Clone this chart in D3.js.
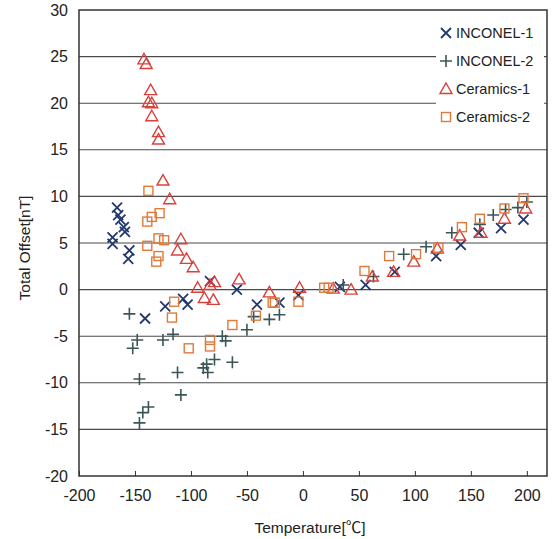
<!DOCTYPE html>
<html>
<head>
<meta charset="utf-8">
<script src="https://cdn.jsdelivr.net/npm/d3@7"></script>
<style>
  html, body { margin: 0; padding: 0; background: #fff; }
  svg { display: block; }
  text { font-family: "Liberation Sans", Arial, sans-serif; fill: #222; }
</style>
</head>
<body>
<svg id="chart" width="552" height="539"></svg>
<script>
// ---- data (Temperature [°C], Total Offset [nT]) ----
const seriesNames = ["INCONEL-1", "INCONEL-2", "Ceramics-1", "Ceramics-2"];
const xTicks = [-200, -150, -100, -50, 0, 50, 100, 150, 200];
const yTicks = [-20, -15, -10, -5, 0, 5, 10, 15, 20, 25, 30];

const inconel1 = [
  [-166, 8.8], [-165, 8.0], [-163, 7.5], [-160, 6.7], [-159, 6.2], [-170, 5.6], [-170, 4.9],
  [-155, 4.2], [-156, 3.3], [-141, -3.1], [-123, -1.8], [-107, -1.0], [-103, -1.6],
  [-83, 0.9], [-59, 0.0], [-41, -1.6], [-21, -1.4], [-4, -0.6], [33, 0.3], [56, 0.5],
  [82, 1.9], [119, 3.6], [141, 4.8], [157, 6.1], [177, 6.6], [197, 7.5]
];
const inconel2 = [
  [-155, -2.6], [-148, -5.4], [-152, -6.3], [-146, -9.6], [-138, -12.6], [-143, -13.2],
  [-146, -14.3], [-125, -5.4], [-116, -4.8], [-112, -8.9], [-109, -11.3],
  [-86, -8.0], [-89, -8.4], [-85, -8.9], [-79, -7.5], [-72, -5.0], [-69, -5.5], [-63, -7.8],
  [-50, -4.3], [-44, -2.9], [-30, -3.2], [-21, -2.7], [36, 0.5], [63, 1.4], [90, 3.8],
  [110, 4.6], [133, 6.1], [158, 7.0], [170, 8.0], [181, 8.6], [192, 8.8], [200, 9.4]
];
const ceramics1 = [
  [-142, 24.7], [-140, 24.2], [-136, 21.4], [-138, 20.1], [-135, 20.0], [-135, 18.6],
  [-129, 16.9], [-129, 16.1], [-125, 11.7], [-119, 9.7], [-109, 5.4], [-112, 4.2],
  [-104, 3.3], [-98, 2.4], [-94, 0.2], [-88, -0.9], [-80, -1.1], [-83, 0.5], [-79, 0.8],
  [-57, 1.1], [-30, -0.3], [-3, 0.2], [27, 0.1], [43, 0.0], [62, 1.4], [81, 1.9],
  [99, 3.0], [120, 4.4], [140, 5.8], [159, 6.1], [180, 7.6], [199, 8.7]
];
const ceramics2 = [
  [-138, 10.6], [-139, 7.3], [-135, 7.8], [-128, 8.2], [-139, 4.7], [-129, 5.5], [-124, 5.3],
  [-129, 3.6], [-131, 3.0], [-115, -1.3], [-117, -3.0], [-102, -6.3], [-83, -5.4], [-83, -6.1],
  [-63, -3.8], [-42, -2.8], [-27, -1.4], [-25, -1.4], [-4, -1.3], [19, 0.2], [23, 0.2],
  [55, 2.0], [77, 3.6], [101, 3.8], [121, 4.5], [142, 6.7], [158, 7.6], [180, 8.7], [197, 9.8]
];

// ---- layout ----
const svg = d3.select("#chart");
const mLeft = 79, mRight = 547, mTop = 10, mBottom = 476;
const x = d3.scaleLinear().domain([-200, 218]).range([mLeft, mRight]);
const y = d3.scaleLinear().domain([-20, 30]).range([mBottom, mTop]);

const colors = ["#23386f", "#3b5656", "#d8403a", "#e07a3c"];
const fmt = d => String(d);

// grid lines
svg.append("g").selectAll("line").data(yTicks.filter(t => t > -20 && t < 30)).join("line")
  .attr("x1", mLeft).attr("x2", mRight)
  .attr("y1", d => y(d)).attr("y2", d => y(d))
  .attr("stroke", "#4a4a4a").attr("stroke-width", 1.1);

// x axis (ticks inward)
const xAxis = svg.append("g").attr("transform", `translate(0,${mBottom})`)
  .call(d3.axisBottom(x).tickValues(xTicks).tickFormat(fmt)
    .tickSizeInner(-5).tickSizeOuter(0).tickPadding(14));
xAxis.select(".domain").remove();
xAxis.selectAll("line").attr("stroke", "#333");
xAxis.selectAll("text").attr("font-size", "16px").attr("fill", "#222")
  .attr("font-family", "Liberation Sans, Arial, sans-serif");

// y axis labels
const yAxis = svg.append("g").attr("transform", `translate(${mLeft},0)`)
  .call(d3.axisLeft(y).tickValues(yTicks).tickFormat(fmt).tickSize(0).tickPadding(11));
yAxis.select(".domain").remove();
yAxis.selectAll("text").attr("font-size", "16px").attr("fill", "#222")
  .attr("font-family", "Liberation Sans, Arial, sans-serif");

// plot frame
svg.append("rect").attr("x", mLeft).attr("y", mTop)
  .attr("width", mRight - mLeft).attr("height", mBottom - mTop)
  .attr("fill", "none").attr("stroke", "#333").attr("stroke-width", 1.5);

// markers
function drawMarker(g, kind, color) {
  if (kind === 0) {
    g.append("path").attr("d", "M-5,-5L5,5M-5,5L5,-5")
      .attr("stroke", color).attr("stroke-width", 1.8).attr("fill", "none");
  } else if (kind === 1) {
    g.append("path").attr("d", "M-6,0L6,0M0,-6L0,6")
      .attr("stroke", color).attr("stroke-width", 1.6).attr("fill", "none");
  } else if (kind === 2) {
    g.append("path").attr("d", "M0,-6L6,4.5L-6,4.5Z")
      .attr("stroke", color).attr("stroke-width", 1.4).attr("fill", "none");
  } else {
    g.append("rect").attr("x", -4.5).attr("y", -4.5).attr("width", 9).attr("height", 9)
      .attr("stroke", color).attr("stroke-width", 1.4).attr("fill", "none");
  }
}

const allSeries = [inconel1, inconel2, ceramics1, ceramics2];
allSeries.forEach((data, i) => {
  const g = svg.append("g");
  g.selectAll("g").data(data).join("g")
    .attr("transform", d => `translate(${x(d[0])},${y(d[1])})`)
    .each(function () { drawMarker(d3.select(this), i, colors[i]); });
});

// legend
const lg = svg.append("g");
lg.append("rect").attr("x", 436).attr("y", 18).attr("width", 108).attr("height", 114).attr("fill", "#fff");
seriesNames.forEach((name, i) => {
  const cy = 33 + i * 28;
  const g = lg.append("g").attr("transform", `translate(446,${cy})`);
  drawMarker(g, i, colors[i]);
  lg.append("text").attr("x", 456).attr("y", cy).attr("dy", "0.36em")
    .attr("font-size", "14.5px").text(name);
});

// axis titles
svg.append("text").attr("x", 310).attr("y", 533).attr("text-anchor", "middle")
  .attr("font-size", "15.5px")
  .html('Temperature[<tspan font-family="Noto Sans CJK JP">℃</tspan>]');
svg.append("text").attr("transform", "translate(30,248) rotate(-90)")
  .attr("text-anchor", "middle").attr("font-size", "15.5px").text("Total Offset[nT]");
</script>
</body>
</html>
